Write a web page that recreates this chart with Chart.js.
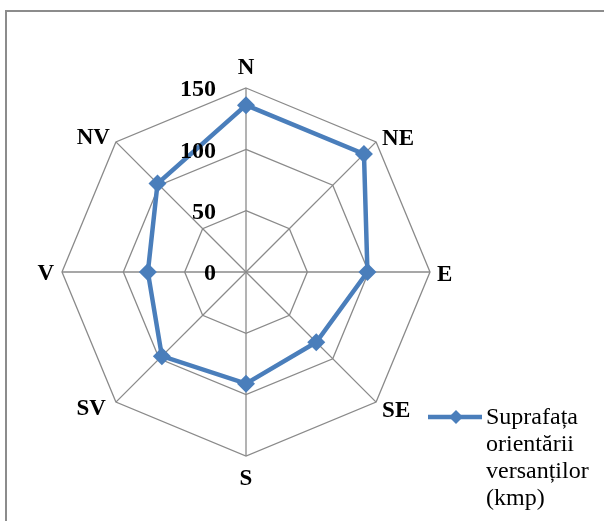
<!DOCTYPE html>
<html>
<head>
<meta charset="utf-8">
<script src="https://cdn.jsdelivr.net/npm/chart.js@4"></script>
<style>
  html, body { margin: 0; padding: 0; background: #ffffff; }
  #wrap { width: 604px; height: 521px; position: relative; overflow: hidden; }
</style>
</head>
<body>
<div id="wrap"><canvas id="c" width="604" height="521"></canvas></div>
<script>
// Orientation of slopes (directions, Romanian abbreviations)
const directions = ['N', 'NE', 'E', 'SE', 'S', 'SV', 'V', 'NV'];
// Surface area per orientation (km²)
const surfaceKm2 = [136, 136, 99, 81, 91, 97, 80, 102];
// Radial scale ticks
const tickValues = [0, 50, 100, 150];
const seriesName = ['Suprafața', 'orientării', 'versanților', '(kmp)'];

const BLUE = '#4a7ebb';
const GRID = '#8a8a8a';
const SERIF = '"Liberation Serif", "Times New Roman", serif';

// Label placement around each outer vertex: [align, dx, dy]
const labelPlacement = [
  ['center', 0, -21],
  ['left', 6, -4],
  ['left', 7, 2],
  ['left', 6, 8],
  ['center', 0, 22],
  ['right', -10, 6],
  ['right', -8, 1],
  ['right', -6, -5]
];

// Frame, tick labels, direction labels and the legend
const decorations = {
  id: 'decorations',
  beforeDraw(chart) {
    const ctx = chart.ctx;
    ctx.save();
    ctx.fillStyle = '#ffffff';
    ctx.fillRect(0, 0, chart.width, chart.height);
    ctx.strokeStyle = '#8c8c8c';
    ctx.lineWidth = 2;
    ctx.strokeRect(6, 11, 700, 600);
    ctx.restore();
  },
  afterDatasetsDraw(chart) {
    const ctx = chart.ctx;
    const r = chart.scales.r;
    ctx.save();
    ctx.fillStyle = '#000';
    ctx.textBaseline = 'middle';
    // tick labels, left of the vertical axis
    ctx.font = 'bold 24px ' + SERIF;
    ctx.textAlign = 'right';
    tickValues.forEach(v => {
      const d = r.getDistanceFromCenterForValue(v);
      ctx.fillText(String(v), r.xCenter - 30, r.yCenter - d + 2);
    });
    // direction labels
    ctx.font = 'bold 23px ' + SERIF;
    directions.forEach((lab, i) => {
      const p = r.getPointPosition(i, r.drawingArea);
      const [align, dx, dy] = labelPlacement[i];
      ctx.textAlign = align;
      ctx.fillText(lab, p.x + dx, p.y + dy + 1);
    });
    // legend
    const ly = 417;
    ctx.strokeStyle = BLUE;
    ctx.lineWidth = 4.5;
    ctx.beginPath();
    ctx.moveTo(428, ly);
    ctx.lineTo(482, ly);
    ctx.stroke();
    ctx.fillStyle = BLUE;
    ctx.beginPath();
    ctx.moveTo(456, ly - 7);
    ctx.lineTo(463, ly);
    ctx.lineTo(456, ly + 7);
    ctx.lineTo(449, ly);
    ctx.closePath();
    ctx.fill();
    ctx.fillStyle = '#000';
    ctx.font = '24px ' + SERIF;
    ctx.textAlign = 'left';
    seriesName.forEach((t, k) => ctx.fillText(t, 486, ly + 1 + k * 27));
    ctx.restore();
  }
};

new Chart(document.getElementById('c'), {
  type: 'radar',
  data: {
    labels: directions,
    datasets: [{
      label: seriesName.join(' '),
      data: surfaceKm2,
      borderColor: BLUE,
      backgroundColor: BLUE,
      borderWidth: 4.5,
      fill: false,
      tension: 0,
      pointStyle: 'rectRot',
      pointRadius: 9,
      pointBorderWidth: 0,
      pointBackgroundColor: BLUE
    }]
  },
  options: {
    responsive: false,
    animation: false,
    layout: { padding: { left: 62, top: 88, right: 174, bottom: 65 } },
    plugins: { legend: { display: false }, tooltip: { enabled: false } },
    scales: {
      r: {
        min: 0,
        max: 150,
        ticks: { stepSize: 50, display: false },
        grid: { color: GRID, lineWidth: 1.3, circular: false },
        angleLines: { display: true, color: GRID, lineWidth: 1.3 },
        pointLabels: { display: false }
      }
    }
  },
  plugins: [decorations]
});
</script>
</body>
</html>
